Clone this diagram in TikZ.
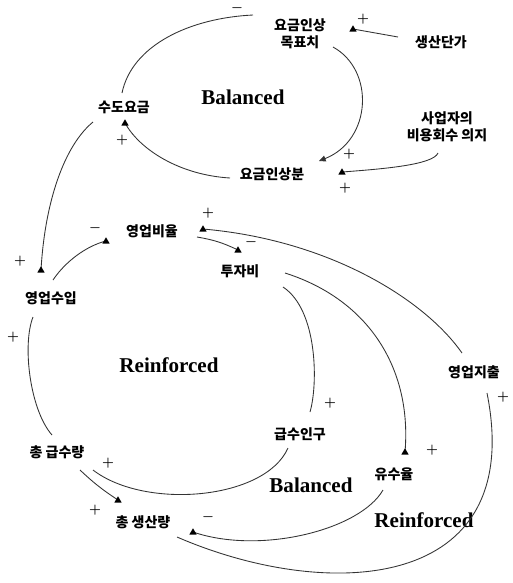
\documentclass[tikz,border=0pt]{standalone}
\usepackage{fontspec}
\setmainfont{Liberation Serif}
\newfontfamily\krfont{Noto Sans CJK KR}
\usetikzlibrary{calc, arrows.meta, decorations.markings}

\begin{document}
\begin{tikzpicture}[
        x=0.75pt, y=-0.75pt,
        var/.style={align=center, inner sep=1pt,
                    font=\krfont\bfseries\fontsize{10.5}{13}\selectfont},
        looplbl/.style={inner sep=0pt, font=\bfseries\fontsize{15.8}{18}\selectfont},
        sgn/.style={inner sep=0pt, font=\boldmath\fontsize{10}{12}\selectfont},
        arr/.style={draw=black!80, line width=0.65pt,
                    postaction={decorate, decoration={markings, mark=at position 1 with
                      {\pgftransformresetnontranslations
                       \fill[black] (-2.8pt,-2pt) -- (2.8pt,-2pt) -- (0,2.8pt) -- cycle;}}}},
        arrtip/.style={draw=black!80, line width=0.65pt, -{Triangle[length=5pt, width=4.5pt]}}]

      \useasboundingbox (0,0) rectangle (512,583);

      % variables
      \node[var] (goal)   at (300,34)  {요금인상\\목표치};
      \node[var] (cost)   at (441,42)  {생산단가};
      \node[var] (fare)   at (124,107) {수도요금};
      \node[var] (will)   at (447,127) {사업자의\\비용회수 의지};
      \node[var] (rise)   at (272,174) {요금인상분};
      \node[var] (ratio)  at (152,231) {영업비율};
      \node[var] (invest) at (240,271) {투자비};
      \node[var] (income) at (51,298)  {영업수입};
      \node[var] (spend)  at (474,372) {영업지출};
      \node[var] (pop)    at (300,434) {급수인구};
      \node[var] (supply) at (57,452)  {총 급수량};
      \node[var] (rate)   at (394,474) {유수율};
      \node[var] (prod)   at (143,522) {총 생산량};

      % loop labels
      \node[looplbl] (balTop)    at (243,97)  {Balanced};
      \node[looplbl] (reinLeft)  at (169,365) {Reinforced};
      \node[looplbl] (balBot)    at (311,485) {Balanced};
      \node[looplbl] (reinRight) at (424,520) {Reinforced};

      % links
      \draw[arr] ($(fare)+(-2,-14)$) .. controls +(10,-48) and +(-63,3) .. ($(goal)+(-47,-19)$);
      \draw[arr] ($(cost)+(-43,-5)$) -- ($(goal)+(53,-5)$);
      \draw[arrtip] ($(goal)+(33,13)$) .. controls +(42,23) and +(53,-21) .. ($(rise)+(47,-13)$);
      \draw[arr] ($(will)+(-9,26)$) .. controls +(-5,12) and +(40,-3) .. ($(rise)+(70,-2)$);
      \draw[arr] ($(rise)+(-42,4)$) .. controls +(-50,-3) and +(15,27) .. ($(fare)+(1,16)$);
      \draw[arr] ($(fare)+(-31,15)$) .. controls +(-28,23) and +(4,-70) .. ($(income)+(-10,-28)$);
      \draw[arr] ($(income)+(2,-18)$) .. controls +(12,-18) and +(-20,5) .. ($(ratio)+(-46,10)$);
      \draw[arr] ($(spend)+(-12,-19)$) .. controls +(-37,-53) and +(127,11) .. ($(ratio)+(51,-2)$);
      \draw[arr] ($(ratio)+(45,6)$) to[bend left=8] ($(invest)+(-2,-21)$);
      \draw[arr] ($(supply)+(-5,-17)$) .. controls +(-22,-25) and +(-11,28) .. ($(income)+(-18,19)$);
      \draw[arr] ($(invest)+(43,16)$) .. controls +(35,23) and +(8,-27) .. ($(pop)+(10,-22)$);
      \draw[arr] ($(invest)+(45,2)$) .. controls +(85,27) and +(7,-82) .. ($(rate)+(11,-22)$);
      \draw[arr] ($(pop)+(-12,14)$) .. controls +(-23,52) and +(52,40) .. ($(supply)+(36,18)$);
      \draw[arr] ($(supply)+(23,18)$) to[bend right=5] ($(prod)+(-25,-22)$);
      \draw[arr] ($(rate)+(-11,16)$) .. controls +(-23,40) and +(67,23) .. ($(prod)+(50,10)$);
      \draw[arr] ($(prod)+(34,15)$) .. controls +(150,65) and +(40,200) .. ($(spend)+(13,21)$);

      % polarities
      \node[sgn] (sg1)  at (237,8)   {$-$};
      \node[sgn] (sg2)  at (363,19)  {$+$};
      \node[sgn] (sg3)  at (349,154) {$+$};
      \node[sgn] (sg4)  at (345,188) {$+$};
      \node[sgn] (sg5)  at (122,140) {$+$};
      \node[sgn] (sg6)  at (20,261)  {$+$};
      \node[sgn] (sg7)  at (95,228)  {$-$};
      \node[sgn] (sg8)  at (208,213) {$+$};
      \node[sgn] (sg9)  at (251,242) {$-$};
      \node[sgn] (sg10) at (13,337)  {$+$};
      \node[sgn] (sg11) at (330,403) {$+$};
      \node[sgn] (sg12) at (432,450) {$+$};
      \node[sgn] (sg13) at (503,397) {$+$};
      \node[sgn] (sg14) at (108,463) {$+$};
      \node[sgn] (sg15) at (95,510)  {$+$};
      \node[sgn] (sg16) at (208,517) {$-$};
    \end{tikzpicture}
\end{document}
